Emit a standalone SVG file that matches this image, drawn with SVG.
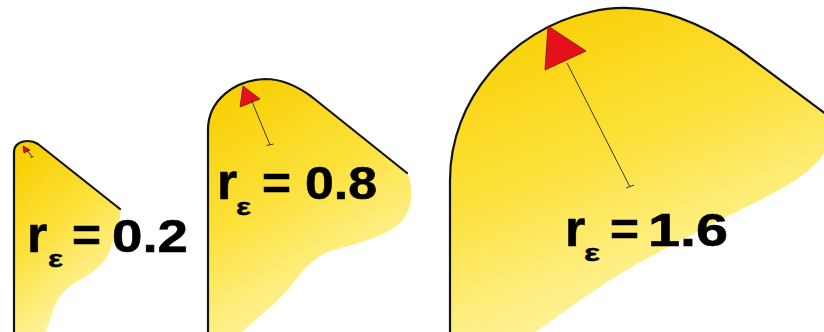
<svg xmlns="http://www.w3.org/2000/svg" width="824" height="332" viewBox="0 0 824 332">
<style>
.edge{fill:none;stroke:#141414;stroke-width:2.2;stroke-linejoin:round;stroke-linecap:round}
.tri{fill:#E4111B;stroke:#7A0A0A;stroke-width:0.8;stroke-linejoin:round}
.rad{stroke:#3a3a2a;stroke-width:1;fill:none}
.lbl{font-family:"Liberation Sans",Arial,sans-serif;font-weight:bold;fill:#000;stroke:#000;stroke-width:0.6;stroke-linejoin:round}
.r{font-size:52px}
.eps{font-size:24px;stroke-width:0.4}
.num{font-size:47px}
</style>
<defs>
<linearGradient id="fillG" x1="0.15" y1="0" x2="0.6" y2="1">
<stop offset="0" stop-color="#F8CE00"/>
<stop offset="0.45" stop-color="#FCE13A"/>
<stop offset="1" stop-color="#FFF8B8"/>
</linearGradient>
</defs>
<rect width="824" height="332" fill="#fff"/>
<g id="region-small">
<path fill="url(#fillG)" d="M14 334 L14 152 C14 145 20 141 28 141 C32 141 35 142 38 144 L120 209 C122 222 113 240 110 250 C106 262 95 272 80 280 C65 287 57 298 53 310 C50 320 47 328 45 334 Z"/>
<path class="edge" d="M14 332 L14 152 C14 145 20 141 28 141 C32 141 35 142 38 144 L120 209"/>
<polygon class="tri" points="23,146 30,150 24,153"/>
<text class="lbl r" x="27" y="252">r</text>
<text class="lbl eps" x="48" y="267" textLength="15" lengthAdjust="spacingAndGlyphs">ε</text>
<text class="lbl num" x="72" y="251" textLength="29" lengthAdjust="spacingAndGlyphs">=</text>
<text class="lbl num" x="112" y="252" textLength="76" lengthAdjust="spacingAndGlyphs">0.2</text>
</g>
<g id="region-medium">
<path fill="url(#fillG)" d="M208 334 L208 130 C208 100 235 80 265 79 C285 79 300 88 312 97 L407 173 C413 185 414 205 403 220 C390 235 360 243 333 250 C310 258 300 275 290 287 C275 305 255 320 240 334 Z"/>
<path class="edge" d="M208 332 L208 130 C208 100 235 80 265 79 C285 79 300 88 312 97 L407 173"/>
<polygon class="tri" points="243,86 260,99 240,107"/>
<text class="lbl r" x="217" y="199">r</text>
<text class="lbl eps" x="236" y="215" textLength="15" lengthAdjust="spacingAndGlyphs">ε</text>
<text class="lbl num" x="262" y="199" textLength="29" lengthAdjust="spacingAndGlyphs">=</text>
<text class="lbl num" x="305" y="199" textLength="72" lengthAdjust="spacingAndGlyphs">0.8</text>
</g>
<g id="region-large">
<path fill="url(#fillG)" d="M450 334 L450 180 C450 100 510 30 590 12 C640 0 690 15 740 50 L826 114 L826 150 C815 170 790 185 760 200 C720 220 670 245 630 268 C600 285 560 315 533 334 Z"/>
<path class="edge" d="M450 332 L450 180 C450 100 510 30 590 12 C640 0 690 15 740 50 L826 114"/>
<polygon class="tri" points="548,26 586,51 545,70"/>
<text class="lbl r" x="565" y="246">r</text>
<text class="lbl eps" x="584" y="261" textLength="16" lengthAdjust="spacingAndGlyphs">ε</text>
<text class="lbl num" x="610" y="245" textLength="29" lengthAdjust="spacingAndGlyphs">=</text>
<text class="lbl num" x="648" y="246" textLength="80" lengthAdjust="spacingAndGlyphs">1.6</text>
</g>
<g id="connectors">
<path class="rad" d="M27 150 L32 157 M30.5 157.5 L33.5 156.5"/>
<path class="rad" d="M251 99 L270 145 M266.5 145.5 L273.5 144"/>
<path class="rad" d="M567 63 L630 187 M626 188 L634 185"/>
</g>
</svg>
